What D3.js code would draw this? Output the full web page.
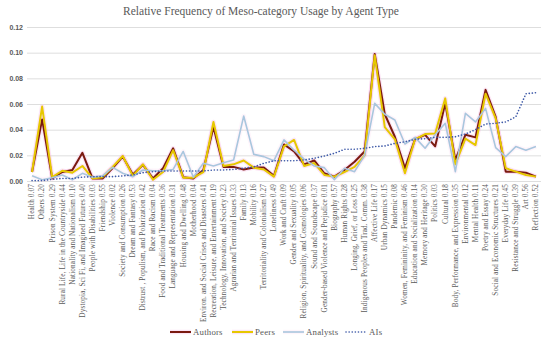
<!DOCTYPE html>
<html><head><meta charset="utf-8">
<script src="https://cdn.jsdelivr.net/npm/d3@7"></script>
<style>body{margin:0;background:#fff}svg{display:block}</style>
</head><body><svg id="c" width="550" height="341"></svg>
<script>
const categories = ["Health 0.07","Others 0.20","Prison System 0.29","Rural Life, Life in the Countryside 0.44","Nationality and Nationalism 0.10","Dystopia, Sci Fi, and Imagined Futures 0.40","People with Disabilities 0.03","Friendship 0.55","Violence 0.02","Society and Consumption 0.26","Dream and Fantasy 0.53","Distrust , Populism, and Polarization 0.42","Race and Racism 0.04","Food and Traditional Treatments 0.36","Language and Representation 0.31","Housing and Dwelling 0.48","Motherhood 0.04","Environ. and Social Crises and Disasters 0.41","Recreation, Leisure, and Entertainment 0.19","Technology, Innovation, and Society 0.23","Agrarian and Territorial Issues 0.33","Family 0.13","Mobility 0.16","Territoriality and Colonialism 0.27","Loneliness 0.49","Work and Craft 0.09","Gender and Sexuality 0.05","Religion, Spirituality, and Cosmologies 0.06","Sound and Soundscape 0.37","Gender-based Violence and Prejudice 0.01","Biography 0.57","Human Rights 0.28","Longing, Grief, or Loss 0.25","Indigenous Peoples and Trad. Comm. 0.38","Affective Life 0.17","Urban Dynamics 0.15","Pandemic 0.08","Women, Femininity, and Feminism 0.46","Education and Socialization 0.14","Memory and Heritage 0.30","Politics 0.03","Cultural 0.18","Body, Performance, and Expression 0.35","Environmental 0.12","Mental Health 0.11","Poetry and Essay 0.24","Social and Economic Structures 0.21","Everyday Life 0.45","Resistance and Struggle 0.39","Art 0.56","Reflection 0.52"];

const authors = [0.007,0.048,0.002,0.007,0.0085,0.022,0.002,0.002,0.010,0.019,0.005,0.0125,0.002,0.010,0.0255,0.003,0.002,0.0085,0.042,0.011,0.011,0.009,0.0105,0.0105,0.004,0.0285,0.023,0.013,0.016,0.006,0.0034,0.0086,0.015,0.023,0.099,0.052,0.0345,0.010,0.0325,0.036,0.027,0.0605,0.0164,0.036,0.034,0.071,0.050,0.0073,0.0073,0.0065,0.0034];
const peers = [0.007,0.058,0.003,0.008,0.0065,0.0117,0.002,0.003,0.011,0.0195,0.004,0.013,0.001,0.007,0.024,0.0026,0.0026,0.007,0.046,0.0117,0.013,0.016,0.0104,0.009,0.0034,0.027,0.032,0.0117,0.014,0.0047,0.0034,0.007,0.011,0.020,0.098,0.042,0.0325,0.006,0.0325,0.0366,0.037,0.0644,0.013,0.033,0.028,0.068,0.0488,0.010,0.0073,0.0047,0.0034];
const analysts = [0.004,0.001,0.0026,0.0047,0.001,0.006,0.003,0.004,0.0106,0.006,0.0034,0.0086,0.008,0.008,0.009,0.023,0.003,0.0138,0.0117,0.0143,0.0164,0.0506,0.0208,0.019,0.0158,0.032,0.024,0.017,0.0117,0.0104,0.001,0.010,0.0073,0.020,0.0605,0.052,0.0475,0.0288,0.034,0.0255,0.036,0.045,0.0073,0.0527,0.046,0.0566,0.026,0.019,0.0268,0.024,0.0268];
const ais = [0.0003,0.0003,0.0013,0.002,0.002,0.003,0.0034,0.0034,0.0034,0.004,0.0047,0.0065,0.0073,0.0078,0.0078,0.0078,0.0078,0.0078,0.0086,0.0086,0.009,0.010,0.011,0.0138,0.0158,0.0158,0.0158,0.0164,0.0177,0.0195,0.0216,0.0247,0.0247,0.0255,0.0268,0.0273,0.0293,0.0306,0.0325,0.033,0.034,0.034,0.0345,0.0366,0.040,0.0444,0.045,0.046,0.050,0.068,0.0688];
const yTicks = [0,0.02,0.04,0.06,0.08,0.10,0.12];
const seriesNames = ["Authors","Peers","Analysts","AIs"];

const svg = d3.select("#c");
const mLeft = 27, mRight = 541, mTop = 27, mBottom = 181;
const x = d3.scaleBand().domain(categories).range([mLeft, mRight]);
const y = d3.scaleLinear().domain([0, 0.12]).range([mBottom, mTop]);

svg.append("text").attr("x", 261).attr("y", 15).attr("text-anchor","middle")
  .attr("font-family","Liberation Serif, DejaVu Serif, serif").attr("font-size", 11.5).attr("fill","#595959")
  .text("Relative Frequency of Meso-category Usage by Agent Type");

// grid
const yAxis = d3.axisLeft(y).tickValues(yTicks).tickFormat(d3.format(".2f")).tickSize(-(mRight-mLeft)).tickPadding(4);
const ga = svg.append("g").attr("transform", `translate(${mLeft},0)`).call(yAxis);
ga.select(".domain").remove();
ga.selectAll(".tick line").attr("stroke","#dedede").attr("stroke-width",1);
ga.selectAll(".tick text").attr("font-family","Liberation Sans, Arial, sans-serif").attr("font-size",7).attr("font-weight","bold").attr("fill","#595959");

// x axis labels
const xAxis = d3.axisBottom(x).tickSize(0).tickPadding(0);
const gx = svg.append("g").attr("transform", `translate(0,${mBottom})`).call(xAxis);
gx.select(".domain").remove();
gx.selectAll(".tick text")
  .attr("font-family","Liberation Serif, DejaVu Serif, serif").attr("font-size",7.2).attr("letter-spacing","0.15px")
  .attr("fill","#595959")
  .attr("text-anchor","end").attr("dy","0.32em").attr("dx",0)
  .attr("transform","translate(0,3) rotate(-90)").attr("y",0).attr("x",0);

const line = d3.line().x((d,i)=>x(categories[i]) + x.bandwidth()/2).y(d=>y(d));
const styles = [
  {data: authors, color:"#7a1a10", w:2, dash:null, glow:0.4},
  {data: peers, color:"#e6c800", w:2, dash:null, glow:0.4},
  {data: analysts, color:"#a9c6de", w:1.6, dash:null, glow:0.15},
  {data: ais, color:"#3f5aa8", w:1.6, dash:"0.1,3", glow:0}
];
styles.forEach(s => {
  if (s.glow) svg.append("path").attr("d", line(s.data)).attr("fill","none")
    .attr("stroke","#f7bfe6").attr("stroke-opacity",s.glow).attr("stroke-width",4.5).attr("stroke-linejoin","round");
});
styles.forEach(s => {
  const p = svg.append("path").attr("d", line(s.data)).attr("fill","none")
    .attr("stroke", s.color).attr("stroke-width", s.w).attr("stroke-linejoin","round");
  if (s.dash) p.attr("stroke-dasharray", s.dash).attr("stroke-linecap","round");
});

// legend
const legX = [170, 232, 283, 346];
const lg = svg.append("g");
seriesNames.forEach((n,i) => {
  const s = styles[i];
  if (s.glow) lg.append("line").attr("x1", legX[i]).attr("x2", legX[i]+21).attr("y1",332).attr("y2",332)
    .attr("stroke","#f7bfe6").attr("stroke-opacity",s.glow).attr("stroke-width",4.5);
  const l = lg.append("line").attr("x1", legX[i]).attr("x2", legX[i]+21).attr("y1",332).attr("y2",332)
    .attr("stroke", s.color).attr("stroke-width", s.w);
  if (s.dash) l.attr("stroke-dasharray", s.dash).attr("stroke-linecap","round");
  lg.append("text").attr("x", legX[i]+23).attr("y", 335).attr("font-family","Liberation Serif, DejaVu Serif, serif")
    .attr("font-size",8.8).attr("letter-spacing","0.2px").attr("fill","#595959").text(n);
});
</script></body></html>
